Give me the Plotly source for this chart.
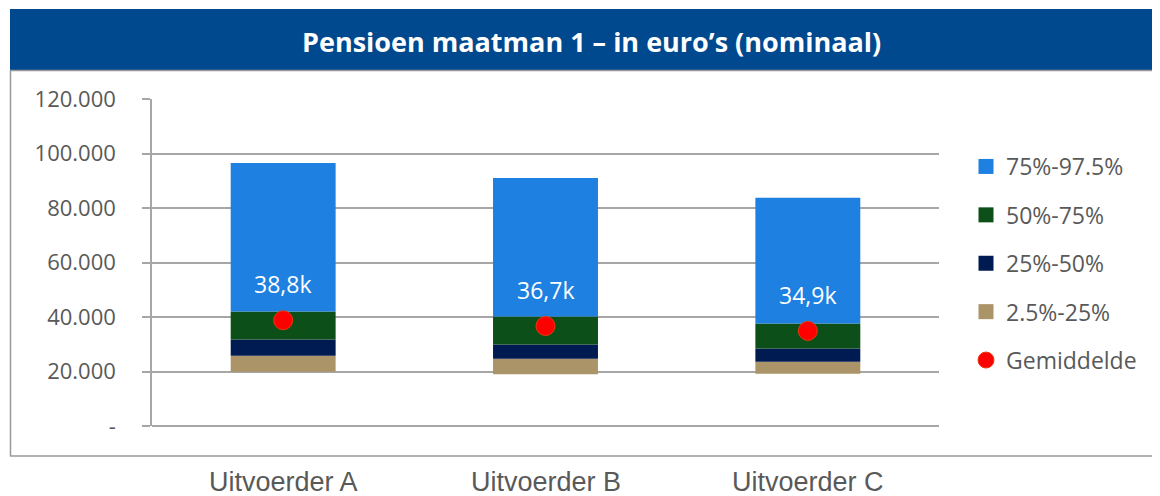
import plotly.graph_objects as go

categories = ["Uitvoerder A", "Uitvoerder B", "Uitvoerder C"]
p2_5 = [19900, 19000, 19200]
p25 = [25800, 24700, 23600]
p50 = [31700, 29900, 28400]
p75 = [42000, 40200, 37600]
p97_5 = [96500, 91000, 83800]
mean = [38800, 36700, 34900]
mean_labels = ["38,8k", "36,7k", "34,9k"]
y_ticks = [0, 20000, 40000, 60000, 80000, 100000, 120000]
y_ticktext = ["-", "20.000", "40.000", "60.000", "80.000", "100.000", "120.000"]

series = [
    ("2.5%-25%", p2_5, p25, "#ab9467", 4),
    ("25%-50%", p25, p50, "#001a52", 3),
    ("50%-75%", p50, p75, "#0d4f19", 2),
    ("75%-97.5%", p75, p97_5, "#1e80e0", 1),
]

OFF = 8  # page body margin
W, H = 1160 - OFF, 496 - OFF
# plot area in screen pixels
SL, SR, ST, SB = 152, 939, 99, 426
L, T = SL - OFF, ST - OFF
R, B = W - (SR - OFF), H - (SB - OFF)
pw, ph = SR - SL, SB - ST


def px(x):
    return (x - SL) / pw


def py(y):
    return (SB - y) / ph


GREY = "#a6a6a6"
TXT = "#595959"

fig = go.Figure()
for name, lo, hi, col, rank in series:
    fig.add_trace(go.Bar(
        x=categories, y=[h - l for l, h in zip(lo, hi)], base=lo,
        name=name, marker=dict(color=col, line=dict(width=0)),
        width=0.4, showlegend=False, hoverinfo="skip",
    ))
    # legend entry with a larger square symbol
    fig.add_trace(go.Scatter(
        x=[None], y=[None], mode="markers", name=name,
        marker=dict(color=col, symbol="square", size=15),
        legendgroup=name, legendrank=rank,
    ))
fig.add_trace(go.Scatter(
    x=categories, y=mean, mode="markers", name="Gemiddelde",
    marker=dict(color="#ff0000", size=19, line=dict(color="#e83a10", width=1)),
    legendgroup="Gemiddelde", legendrank=5,
))

annotations = []
for c, m, t in zip(categories, mean, mean_labels):
    annotations.append(dict(x=c, y=m, xref="x", yref="y", text=t, showarrow=False,
                            yshift=36, font=dict(family="Open Sans", size=23, color="white")))
for c in categories:
    annotations.append(dict(x=c, y=py(482), xref="x", yref="paper", text=c, showarrow=False,
                            yanchor="middle",
                            font=dict(family="Liberation Sans", size=27, color=TXT)))
annotations.append(dict(x=px(591), y=py(41), xref="paper", yref="paper",
                        text="<b>Pensioen maatman 1 – in euro’s (nominaal)</b>",
                        showarrow=False, xanchor="center", yanchor="middle",
                        font=dict(family="Open Sans", size=27, color="white")))

shapes = [
    dict(type="rect", xref="paper", yref="paper", x0=px(10), x1=px(1170), y0=py(70), y1=py(9),
         fillcolor="#00498f", line=dict(width=0), layer="below"),
    dict(type="line", xref="paper", yref="paper", x0=px(10), x1=px(1170), y0=py(70.5), y1=py(70.5),
         line=dict(color="#999999", width=1.5)),
    dict(type="line", xref="paper", yref="paper", x0=px(10.5), x1=px(10.5), y0=py(70), y1=py(456),
         line=dict(color="#999999", width=1.5)),
    dict(type="line", xref="paper", yref="paper", x0=px(10), x1=px(1170), y0=py(456), y1=py(456),
         line=dict(color="#999999", width=1.5)),
]

fig.update_layout(
    width=W, height=H,
    margin=dict(l=L, r=R, t=T, b=B),
    paper_bgcolor="white", plot_bgcolor="white",
    barmode="overlay",
    showlegend=True,
    legend=dict(x=px(966), y=py(145), xanchor="left", yanchor="top",
                font=dict(family="Open Sans", size=23, color=TXT),
                traceorder="grouped", tracegroupgap=15.5, itemwidth=30,
                bgcolor="rgba(0,0,0,0)"),
    annotations=annotations,
    shapes=shapes,
    xaxis=dict(showticklabels=False, showgrid=False, zeroline=False, showline=False,
               ticks="", fixedrange=True),
    yaxis=dict(range=[0, 120000], tickvals=y_ticks, ticktext=y_ticktext,
               showgrid=True, gridcolor=GREY, gridwidth=1.5,
               zeroline=True, zerolinecolor=GREY, zerolinewidth=1.5,
               showline=True, linecolor=GREY, linewidth=1.5,
               ticks="outside", ticklen=8, tickcolor=GREY, tickwidth=1.5,
               ticklabelstandoff=22,
               tickfont=dict(family="Open Sans", size=22, color=TXT)),
)

fig.write_html("out.html")
